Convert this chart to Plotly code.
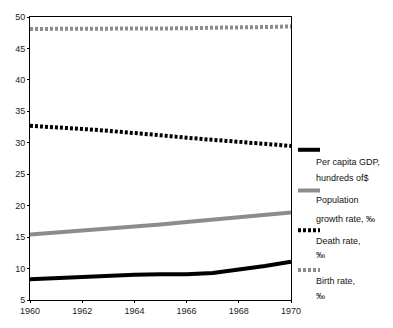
import plotly.graph_objects as go

years = [1960, 1961, 1962, 1963, 1964, 1965, 1966, 1967, 1968, 1969, 1970]
gdp = [8.3, 8.5, 8.6, 8.8, 9.0, 9.1, 9.1, 9.3, 9.8, 10.4, 11.1]
pop_growth = [15.4, 15.7, 16.0, 16.3, 16.7, 17.0, 17.4, 17.8, 18.2, 18.5, 18.9]
death = [32.7, 32.5, 32.2, 31.9, 31.6, 31.2, 30.8, 30.5, 30.2, 29.9, 29.5]
birth = [48.1, 48.1, 48.1, 48.1, 48.2, 48.2, 48.2, 48.3, 48.3, 48.4, 48.5]

series_names = ["Per capita GDP,<br>hundreds of$", "Population<br>growth rate, ‰",
                "Death rate,<br>‰", "Birth rate,<br>‰"]
series_colors = ["#000000", "#8c8c8c", "#000000", "#8c8c8c"]
series_dash = ["solid", "solid", "3px,2px", "3px,2px"]
series_vals = [gdp, pop_growth, death, birth]

W, H = 393, 328
L, R, T, B = 30, 102, 12, 24
pw, ph = W - L - R, H - T - B

fig = go.Figure()
for name, col, dsh, vals in zip(series_names, series_colors, series_dash, series_vals):
    fig.add_trace(go.Scatter(x=years, y=vals, mode="lines", name=name,
                             line=dict(color=col, width=4, dash=dsh),
                             showlegend=False))

def px_x(p):
    return (p - L) / pw

def px_y(p):
    return 1 - (p - T) / ph

# manual legend: line sample above text
legend_rows = [149, 191, 232, 273]
text_rows = [(162, 178), (201, 220), (243, 258), (284, 300)]
shapes = []
annotations = []
for i, name in enumerate(series_names):
    shapes.append(dict(type="line", xref="paper", yref="paper",
                       x0=px_x(298), x1=px_x(320),
                       y0=px_y(legend_rows[i]), y1=px_y(legend_rows[i]),
                       line=dict(color=series_colors[i], width=4,
                                 dash=series_dash[i])))
    lines = name.split("<br>")
    for j, txt in enumerate(lines):
        annotations.append(dict(text=txt, xref="paper", yref="paper",
                                x=px_x(314), y=px_y(text_rows[i][j]),
                                xanchor="left", yanchor="middle",
                                showarrow=False,
                                font=dict(size=9, color="#111111",
                                          family="Liberation Sans, Arial, sans-serif")))

fig.update_layout(
    width=W, height=H,
    margin=dict(l=L, r=R, t=T, b=B),
    paper_bgcolor="white", plot_bgcolor="white",
    font=dict(family="Liberation Sans, Arial, sans-serif", size=9, color="#222222"),
    shapes=shapes, annotations=annotations,
    xaxis=dict(range=[1960, 1970], tickvals=[1960, 1962, 1964, 1966, 1968, 1970],
               showgrid=False, zeroline=False, showline=True, linecolor="black",
               linewidth=1, mirror=True, ticks="outside", ticklen=2,
               tickcolor="black", tickfont=dict(size=9)),
    yaxis=dict(range=[5, 50], tickvals=list(range(5, 51, 5)),
               showgrid=False, zeroline=False, showline=True, linecolor="black",
               linewidth=1, mirror=True, ticks="outside", ticklen=2,
               tickcolor="black", tickfont=dict(size=9)),
)

fig.write_html("out.html")
